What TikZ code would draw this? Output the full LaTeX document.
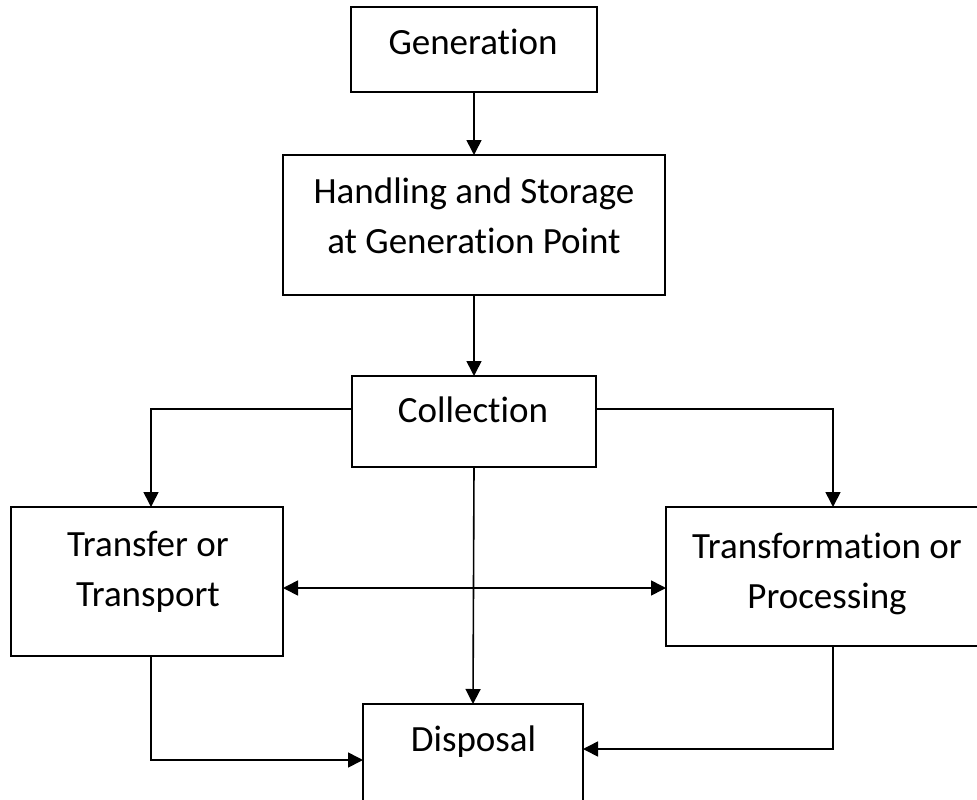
\documentclass[tikz,border=0pt]{standalone}
\usepackage{fontspec}
\setmainfont{Carlito}[Ligatures=NoCommon]
\usetikzlibrary{arrows.meta}
\begin{document}
\begin{tikzpicture}[x=1pt,y=-1pt,
  box/.style={draw, line width=1.9pt, inner sep=0pt, outer sep=0pt, rectangle},
  lbl/.style={font=\fontsize{37}{50}\selectfont, align=center, inner sep=0pt},
  tip/.tip={Triangle[length=15pt,width=15pt]},
  arr/.style={line width=1.6pt, -tip},
  arrb/.style={line width=1.6pt, tip-tip}]
\clip (0,0) rectangle (977,800);
% boxes
\node[box, minimum width=246pt, minimum height=85pt] (gen) at (474,49.5) {};
\node[box, minimum width=382pt, minimum height=140pt] (hand) at (474,225) {};
\node[box, minimum width=244pt, minimum height=91pt] (coll) at (474,421.5) {};
\node[box, minimum width=272pt, minimum height=149pt] (trf) at (147,581.5) {};
\node[box, minimum width=324pt, minimum height=139pt] (trans) at (828,576.5) {};
\node[box, minimum width=220pt, minimum height=126pt] (disp) at (473,767) {};
% texts
\node[lbl, anchor=base] (gent) at (473,55) {Generation};
\node[lbl] (handt) at (474,216) {Handling and Storage\\at Generation Point};
\node[lbl] (trft) at (148,572) {Transfer or\\Transport};
\node[lbl] (transt) at (827,574) {Transformation or\\Processing};
\node[lbl, anchor=base] (collt) at (473,422) {Collection};
\node[lbl, anchor=base] (dispt) at (473.5,751) {Disposal};
% helper coordinates
\coordinate (cy) at (0,409);
\coordinate (by) at (0,588);
\coordinate (ly) at (0,760);
\coordinate (ry) at (0,749);
\coordinate (lx) at (151,0);
\coordinate (rx) at (833,0);
% connectors
\draw[arr] (gen.south) -- (hand.north);
\draw[arr] (hand.south) -- (coll.north);
\draw[arr] (coll.south) -- (disp.north);
\draw[arr] (coll.west |- cy) -| (lx |- trf.north);
\draw[arr] (coll.east |- cy) -| (rx |- trans.north);
\draw[arrb] (trf.east |- by) -- (trans.west |- by);
\draw[arr] (lx |- trf.south) |- (disp.west |- ly);
\draw[arr] (rx |- trans.south) |- (disp.east |- ry);
\end{tikzpicture}
\end{document}
